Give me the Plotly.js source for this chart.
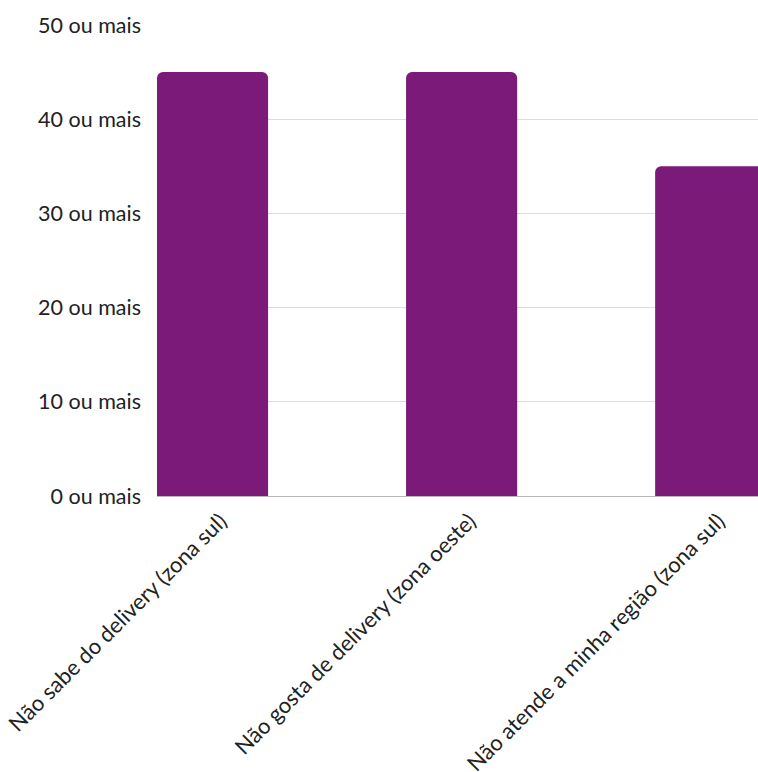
<!DOCTYPE html>
<html>
<head>
<meta charset="utf-8">
<script src="https://cdn.plot.ly/plotly-3.0.1.min.js"></script>
<style>html,body{margin:0;padding:0;background:#fff;}#chart{width:758px;height:772px;}</style>
</head>
<body>
<div id="chart"></div>
<script>
const categories = ["Não sabe do delivery (zona sul)", "Não gosta de delivery (zona oeste)", "Não atende a minha região (zona sul)"];
const values = [45, 45, 35];
const yTickValues = [0, 10, 20, 30, 40, 50];
const yTickLabels = ["0 ou mais", "10 ou mais", "20 ou mais", "30 ou mais", "40 ou mais", "50 ou mais"];

Plotly.newPlot("chart", [{
  type: "bar",
  x: [0, 1, 2],
  y: values,
  marker: {color: "#7B1A78", line: {width: 0}},
  hoverinfo: "none"
}], {
  width: 758, height: 772,
  margin: {l: 157, r: 0, t: 25, b: 276, pad: 0},
  paper_bgcolor: "#fff", plot_bgcolor: "#fff",
  bargap: 0.554,
  barcornerradius: 6,
  font: {family: "Lato, sans-serif", size: 21.5, color: "#222"},
  xaxis: {
    range: [-0.223, 2.19],
    tickvals: [0, 1, 2],
    ticktext: categories,
    tickangle: -45,
    showgrid: false,
    zeroline: false,
    showline: false,
    ticks: "",
    ticklabelstandoff: 7,
    ticklabelshift: 8,
    ticklabeloverflow: "allow",
    tickfont: {family: "Lato, sans-serif", size: 22, color: "#222"}
  },
  yaxis: {
    range: [0, 50],
    tickvals: yTickValues,
    ticktext: yTickLabels,
    showgrid: true,
    gridcolor: "#dcdcdc",
    gridwidth: 1,
    zeroline: true,
    zerolinecolor: "#b8b8b8",
    zerolinewidth: 1,
    showline: false,
    ticks: "",
    ticklabelstandoff: 15,
    tickfont: {family: "Lato, sans-serif", size: 21.5, color: "#222"}
  },
  showlegend: false
}, {staticPlot: true});
</script>
</body>
</html>
